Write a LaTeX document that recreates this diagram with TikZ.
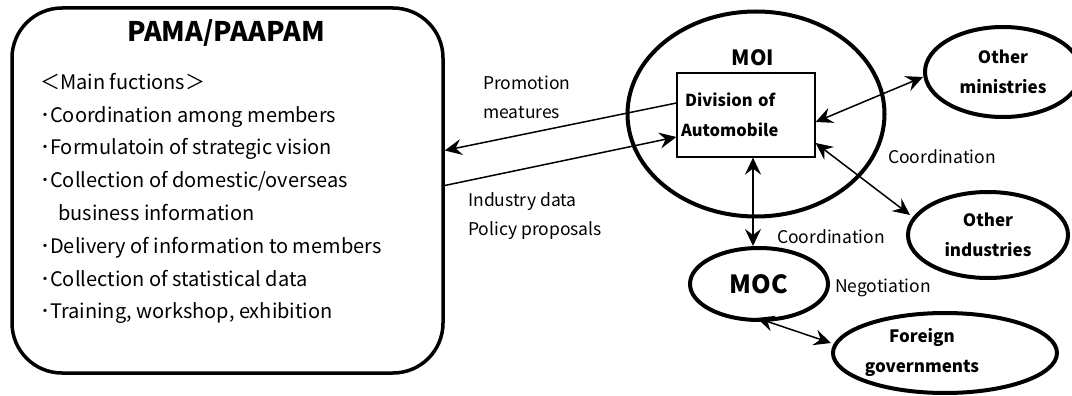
\documentclass[tikz,border=0pt]{standalone}
\usepackage{fontspec}
\setmainfont{Noto Sans CJK JP}
\usetikzlibrary{arrows.meta,shapes}

\tikzset{
  oval/.style={draw,ellipse,line width=4pt,inner sep=0pt},
  orgname/.style={font=\bfseries\fontsize{17}{30}\selectfont,align=center,inner sep=0pt},
  flowtxt/.style={font=\fontsize{17.5}{29}\selectfont,align=left,anchor=west,inner sep=0pt},
  twoway/.style={line width=1.5pt,{Stealth[length=17pt,width=16pt,inset=6pt]}-{Stealth[length=17pt,width=16pt,inset=6pt]}},
  oneway/.style={line width=1.5pt,-{Stealth[length=17pt,width=16pt,inset=6pt]}}
}

\begin{document}
\begin{tikzpicture}[x=1pt,y=-1pt]
\useasboundingbox (0,0) rectangle (1072,396);

% association box
\node (pama) [draw,line width=3.5pt,rounded corners=50pt,minimum width=431pt,minimum height=365pt] at (227.5,190.5) {};
\node (pama_title) [orgname,font=\bfseries\fontsize{27}{30}\selectfont] at (226,33) {PAMA/PAAPAM};
\node (pama_list) [anchor=north west,align=left,inner sep=0pt,font=\fontsize{20}{32.8}\selectfont] at (40,73)
  {＜Main fuctions＞\\
   ･Coordination among members\\
   ･Formulatoin of strategic vision\\
   ･Collection of domestic/overseas\\
   \hspace*{18pt}business information\\
   ･Delivery of information to members\\
   ･Collection of statistical data\\
   ･Training, workshop, exhibition};

% ministry of industry
\node (moi) [oval,minimum width=257pt,minimum height=205pt] at (756,114) {};
\node (moi_title) [orgname,font=\bfseries\fontsize{21}{22}\selectfont] at (753,58) {MOI};
\node (div) [draw,line width=1.2pt,minimum width=138pt,minimum height=84pt,text width=130pt,inner xsep=4pt,align=left,font=\bfseries\fontsize{16.5}{30}\selectfont] at (746,115) {\hspace*{4pt}Division of\\Automobile};

% partners
\node (ministries) [oval,orgname,minimum width=156pt,minimum height=90pt] at (1003,72) {Other\\ministries};
\node (industries) [oval,orgname,minimum width=160pt,minimum height=86pt] at (988,235) {Other\\industries};
\node (moc) [oval,minimum width=138pt,minimum height=72pt,font=\bfseries\fontsize{25}{28}\selectfont] at (759,284) {MOC};
\node (foreign) [oval,minimum width=224pt,minimum height=80pt] at (945,353) {};
\node (foreign_txt) [orgname] at (922,352) {Foreign\\governments};

% flows
\draw[oneway] (div.west|-0,103) -- ([yshift=40pt]pama.east);
\draw[oneway] ([yshift=5pt]pama.east) -- (div.west|-0,137);
\draw[twoway] (div.south-|753,0) -- (moc.north-|753,0);
\draw[twoway] (div.east|-0,122) -- (ministries.west|-0,77);
\draw[twoway] (div.east|-0,143) -- (910,215);
\draw[twoway] (757,318) -- (foreign.west|-0,343);

% labels
\node (lbl_promo) [flowtxt] at (483,97) {Promotion\\meatures};
\node (lbl_data) [flowtxt] at (468,216) {Industry data\\Policy proposals};
\node (lbl_coord1) [flowtxt] at (888,157) {Coordination};
\node (lbl_coord2) [flowtxt] at (777,237) {Coordination};
\node (lbl_nego) [flowtxt] at (835,288) {Negotiation};
\end{tikzpicture}
\end{document}
